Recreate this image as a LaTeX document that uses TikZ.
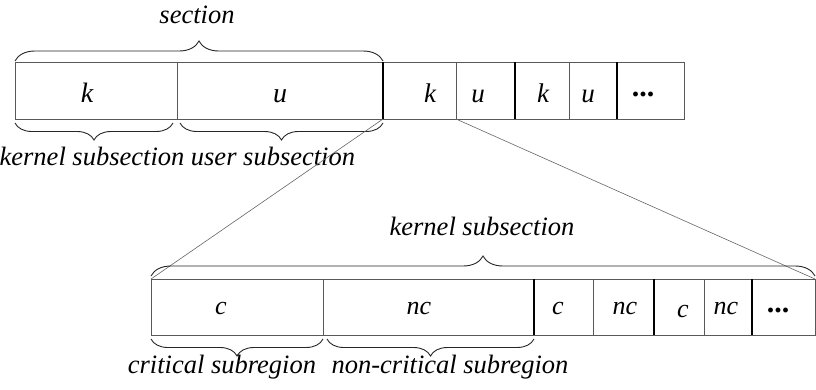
\documentclass[tikz,border=0pt]{standalone}
\usepackage{fontspec}
\setmainfont{Liberation Serif}
\usetikzlibrary{decorations.pathreplacing}
\tikzset{
  cell/.style={draw=black!65, line width=0.9pt, rectangle, inner sep=0pt, outer sep=0pt,
    anchor=north west, minimum height=57pt},
  lowcell/.style={cell, minimum height=56pt},
  sep/.style={line width=2pt, black},
  brc/.style={decorate, decoration={brace, amplitude=#1}, line width=0.9pt, black!85},
  link/.style={line width=0.6pt, black!60},
  big/.style={anchor=base, inner sep=0pt, font=\fontsize{28}{31}\selectfont\itshape},
  mid/.style={anchor=base, inner sep=0pt, font=\fontsize{27}{30}\selectfont\itshape},
  low/.style={anchor=base, inner sep=0pt, font=\fontsize{26}{29}\selectfont\itshape},
  lbl/.style={anchor=base, inner sep=0pt, font=\fontsize{26.5}{29}\selectfont\itshape},
  dots/.style={anchor=base, inner sep=0pt, font=\fontsize{30}{33}\selectfont\bfseries}
}
\begin{document}
\begin{tikzpicture}[x=1pt, y=-1pt]
\useasboundingbox (0,0) rectangle (816,389);

% upper strip: one section (k, u) followed by further sections
\node[cell, minimum width=162pt] (t1) at (15,62) {};
\node[cell, minimum width=206pt] (t2) at (177,62) {};
\node[cell, minimum width=73pt]  (t3) at (383,62) {};
\node[cell, minimum width=59pt]  (t4) at (456,62) {};
\node[cell, minimum width=54pt]  (t5) at (515,62) {};
\node[cell, minimum width=48pt]  (t6) at (569,62) {};
\node[cell, minimum width=67pt]  (t7) at (617,62) {};
\draw[sep] (t3.north west) -- (t3.south west);
\draw[sep] (t5.north west) -- (t5.south west);
\draw[sep] (t7.north west) -- (t7.south west);

\node[big] (tk1) at (87,102) {k};
\node[big] (tu1) at (280,102) {u};
\node[mid] (tk2) at (430,102) {k};
\node[mid] (tu2) at (478,102) {u};
\node[mid] (tk3) at (543,102) {k};
\node[mid] (tu3) at (588,102) {u};
\node[dots] (tdots) at (643,96) {...};

% braces of the upper strip
\draw[brc=20pt] ([yshift=1pt]t1.north west) -- ([yshift=1pt]t2.north east);
\node[lbl] (lsec) at (197,23) {section};
\draw[brc=17pt] ([xshift=-4pt,yshift=-4pt]t1.south east) -- ([yshift=-4pt]t1.south west);
\draw[brc=17pt] ([yshift=-4pt]t2.south east) -- ([xshift=3pt,yshift=-4pt]t2.south west);
\node[lbl] (lks) at (92,165) {kernel subsection};
\node[lbl] (lus) at (273,165) {user subsection};

% lower strip: one kernel subsection (c, nc) followed by further pairs
\node[lowcell, minimum width=172pt] (b1) at (151,279) {};
\node[lowcell, minimum width=211pt] (b2) at (323,279) {};
\node[lowcell, minimum width=59pt]  (b3) at (534,279) {};
\node[lowcell, minimum width=61pt]  (b4) at (593,279) {};
\node[lowcell, minimum width=50pt]  (b5) at (654,279) {};
\node[lowcell, minimum width=48pt]  (b6) at (704,279) {};
\node[lowcell, minimum width=63pt]  (b7) at (752,279) {};
\draw[sep] (b3.north west) -- (b3.south west);
\draw[sep] (b5.north west) -- (b5.south west);
\draw[sep] (b7.north west) -- (b7.south west);

\node[low] (bc1) at (221,314) {c};
\node[low] (bn1) at (419,314) {nc};
\node[low] (bc2) at (558,314) {c};
\node[low] (bn2) at (625,314) {nc};
\node[low] (bc3) at (683,317) {c};
\node[low] (bn3) at (726,314) {nc};
\node[dots] (bdots) at (778,312) {...};

% zoom lines from the kernel subsection down to the lower strip
\draw[link] (t3.south west) -- (b1.north west);
\draw[link] (t4.south west) -- (b7.north east);

% braces of the lower strip
\draw[brc=20pt] ([yshift=3pt]b1.north west) -- ([yshift=3pt]b7.north east);
\node[lbl] (lks2) at (482,235) {kernel subsection};
\draw[brc=17pt] ([yshift=-4pt]b1.south east) -- ([yshift=-4pt]b1.south west);
\draw[brc=17pt] ([yshift=-4pt]b2.south east) -- ([xshift=4pt,yshift=-4pt]b2.south west);
\node[lbl] (lcr) at (222,373) {critical subregion};
\node[lbl] (lnc) at (450,373) {non-critical subregion};
\end{tikzpicture}
\end{document}
